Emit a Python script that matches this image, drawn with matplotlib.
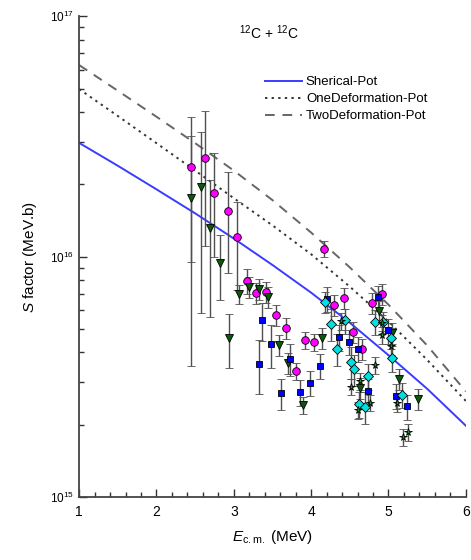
import numpy as np
import matplotlib
matplotlib.use("Agg")
import matplotlib.pyplot as plt
from matplotlib.ticker import MultipleLocator, LogLocator, NullFormatter

plt.rcParams['font.family'] = ['Liberation Sans', 'DejaVu Sans']
plt.rcParams['mathtext.fontset'] = 'custom'
plt.rcParams['mathtext.rm'] = 'Liberation Sans'
plt.rcParams['mathtext.it'] = 'Liberation Sans:italic'

# ---- model curves (S in units of 1e16 MeV.b) ----
E_curve = [1.0, 1.5, 2.0, 2.5, 3.0, 3.5, 4.0, 4.5, 5.0, 5.5, 6.0]
S_sph = [2.972, 2.388, 1.905, 1.514, 1.189, 0.923, 0.708, 0.531, 0.389, 0.282, 0.198]
S_one = [4.977, 3.846, 2.965, 2.280, 1.750, 1.349, 1.023, 0.750, 0.537, 0.372, 0.251]
S_two = [6.266, 4.898, 3.819, 2.965, 2.280, 1.718, 1.259, 0.902, 0.631, 0.427, 0.275]

# ---- data sets: energy, S (1e15 MeV.b), relative error ----
E_mag = [2.45, 2.63, 2.75, 2.92, 3.04, 3.17, 3.29, 3.42, 3.54, 3.67,
         3.80, 3.92, 4.04, 4.17, 4.29, 4.42, 4.54, 4.66, 4.79, 4.91]
S_mag = [23.7, 25.7, 18.4, 15.5, 12.1, 7.94, 7.07, 7.11, 5.73, 5.03,
         3.34, 4.48, 4.40, 10.8, 6.28, 6.70, 4.85, 4.14, 6.43, 7.02]
R_mag = [0.60, 0.57, 0.46, 0.45, 0.40, 0.12, 0.10, 0.10, 0.10, 0.10,
         0.08, 0.08, 0.08, 0.08, 0.10, 0.10, 0.10, 0.10, 0.10, 0.10]

E_tri = [2.45, 2.57, 2.69, 2.82, 2.94, 3.07, 3.20, 3.33, 3.44, 3.58,
         3.70, 3.89, 4.14, 4.63, 4.88, 5.04, 5.13, 5.38]
S_tri = [17.6, 19.4, 13.2, 9.42, 4.60, 7.00, 7.49, 7.36, 6.80, 4.28,
         3.60, 2.41, 4.60, 2.83, 5.93, 4.82, 3.09, 2.56]
R_tri = [0.80, 0.70, 0.575, 0.30, 0.25, 0.09, 0.10, 0.10, 0.10, 0.10,
         0.10, 0.08, 0.10, 0.10, 0.10, 0.10, 0.10, 0.10]

E_sq = [3.33, 3.36, 3.48, 3.61, 3.73, 3.86, 3.98, 4.11, 4.20, 4.36,
        4.49, 4.60, 4.74, 4.86, 5.00, 5.10, 5.24]
S_sq = [3.59, 5.46, 4.31, 2.70, 3.76, 2.73, 2.98, 3.51, 6.68, 4.62,
        4.41, 4.14, 2.76, 6.77, 4.93, 2.64, 2.38]
R_sq = [0.25, 0.18, 0.20, 0.15, 0.15, 0.12, 0.12, 0.12, 0.12, 0.12,
        0.12, 0.12, 0.12, 0.12, 0.12, 0.12, 0.12]

E_dia = [4.18, 4.26, 4.34, 4.44, 4.52, 4.56, 4.62, 4.69, 4.74, 4.82,
         4.93, 5.03, 5.04, 5.17]
S_dia = [6.49, 5.26, 4.14, 5.43, 3.66, 3.40, 2.43, 2.37, 3.18, 5.36,
         5.34, 4.60, 3.78, 2.66]
R_dia = [0.10, 0.15, 0.15, 0.12, 0.15, 0.15, 0.12, 0.15, 0.12, 0.12,
         0.10, 0.10, 0.12, 0.12]

E_star = [4.39, 4.51, 4.60, 4.63, 4.76, 4.82, 4.91, 4.91, 5.03, 5.11, 5.19, 5.25]
S_star = [5.39, 2.88, 2.30, 3.03, 2.47, 3.54, 5.31, 4.71, 4.25, 2.45, 1.77, 1.86]
R_star = [0.08] * len(E_star)

fig = plt.figure(figsize=(4.71, 5.6), dpi=100)
ax = fig.add_axes([0.168, 0.1125, 0.821, 0.8585])

sets = [
    (E_mag, S_mag, R_mag, 'o', '#ff00ff', 5.5),
    (E_tri, S_tri, R_tri, 'v', '#0a5a0a', 6),
    (E_sq, S_sq, R_sq, 's', '#0000ff', 4.5),
    (E_dia, S_dia, R_dia, 'D', '#00e0e0', 4.6),
    (E_star, S_star, R_star, '*', '#1c9c1c', 5.5),
]
for e, s, r, mk, col, ms in sets:
    s = np.array(s) * 1e15
    err = s * np.array(r)
    ax.errorbar(e, s, yerr=err, fmt=mk, color=col, mfc=col, mec='black',
                mew=0.6, ms=ms, ecolor='#505050', elinewidth=1.0,
                capsize=3, capthick=1.0, zorder=3)

ec = np.array(E_curve)
ax.plot(ec, np.array(S_sph) * 1e16, color='#3b3bff', lw=1.4, label='Sherical-Pot', zorder=2)
ax.plot(ec, np.array(S_one) * 1e16, color='#333333', lw=1.4, ls=(0, (1.2, 2.2)),
        label='OneDeformation-Pot', zorder=2)
ax.plot(ec, np.array(S_two) * 1e16, color='#666666', lw=1.4, ls=(0, (5, 4)),
        label='TwoDeformation-Pot', zorder=2)

ax.set_yscale('log')
ax.set_xlim(1, 6)
ax.set_ylim(1e15, 1e17)

ax.xaxis.set_major_locator(MultipleLocator(1))
ax.xaxis.set_minor_locator(MultipleLocator(0.2))
ax.yaxis.set_major_locator(LogLocator(base=10))
ax.yaxis.set_minor_locator(LogLocator(base=10, subs=np.arange(2, 10)))
ax.yaxis.set_minor_formatter(NullFormatter())

ax.tick_params(which='both', direction='in', top=False, right=False, colors='#333333')
ax.tick_params(which='major', length=6, width=1.0, labelsize=10, labelcolor='black')
ax.tick_params(which='minor', length=3.5, width=1.0)
ax.tick_params(axis='y', which='major', labelsize=8.5)
ax.tick_params(axis='x', pad=6)

for side in ['top', 'right']:
    ax.spines[side].set_visible(False)
for side in ['left', 'bottom']:
    ax.spines[side].set_color('#444444')
    ax.spines[side].set_linewidth(1.3)

ax.set_xlabel(r'$E_{\mathrm{c.m.}}$ (MeV)', fontsize=11, labelpad=6)
ax.set_ylabel(r'$S$ factor (MeV.b)', fontsize=11, labelpad=8)

ax.text(0.49, 0.965, r'$^{12}$C + $^{12}$C', transform=ax.transAxes,
        ha='center', va='center', fontsize=10)

ax.legend(loc='upper left', bbox_to_anchor=(0.45, 0.9), frameon=False,
          fontsize=9.5, handlelength=2.8, handletextpad=0.3, labelspacing=0.35)

fig.savefig('out.png', dpi=100)
